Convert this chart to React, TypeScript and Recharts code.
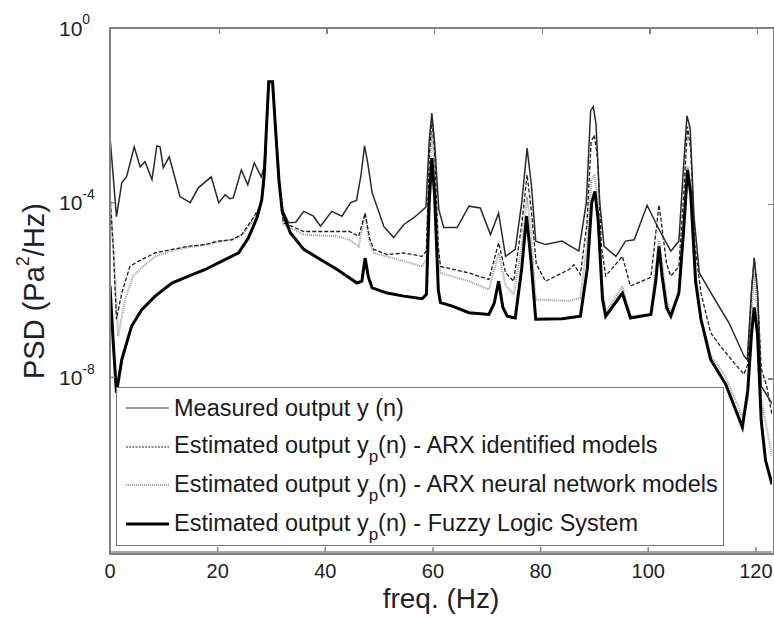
import React from "react";
import { LineChart, Line, XAxis, YAxis, Legend, Label } from "recharts";

const FONT = '"Liberation Sans", Arial, Helvetica, sans-serif';

// frequency (Hz) and log10(PSD)
const measuredFreq = [0, 1.2, 2.2, 3.1, 4.5, 5.6, 6.5, 7.8, 8.7, 9.3, 9.9, 11.0, 11.8, 13.0, 14.9, 16.4, 18.8, 20.2, 21.4, 22.3, 22.9, 24.4, 25.6, 26.8, 28.1, 28.6, 29.1, 29.5, 30.2, 30.7, 31.4, 32.0, 33.2, 34.5, 36.0, 37.8, 39.1, 41.2, 43.1, 44.7, 45.8, 46.6, 47.3, 47.9, 48.7, 50.9, 52.7, 54.6, 56.4, 58.0, 58.7, 59.3, 59.8, 60.3, 61.1, 62.0, 64.5, 66.7, 68.8, 70.7, 72.2, 73.5, 75.3, 76.5, 77.5, 78.3, 79.1, 80.9, 84.0, 87.1, 88.5, 89.3, 89.8, 90.3, 91.0, 91.8, 94.0, 95.8, 97.4, 99.8, 101.7, 104.2, 105.7, 106.5, 107.2, 107.8, 108.5, 109.5, 112.2, 115.0, 117.8, 118.4, 119.2, 119.7, 120.3, 121.0, 123.0];
const measuredLog = [-2.49, -4.32, -3.54, -3.4, -2.72, -3.18, -3.06, -3.47, -2.7, -2.72, -3.2, -2.95, -3.31, -3.86, -4.0, -3.66, -3.41, -4.0, -3.82, -3.91, -3.89, -3.25, -3.59, -3.09, -3.41, -3.2, -2.2, -1.23, -1.23, -2.2, -3.5, -4.16, -4.46, -4.45, -4.2, -4.31, -4.54, -4.2, -4.31, -4.0, -3.95, -3.4, -2.7, -3.1, -3.77, -4.55, -4.8, -4.5, -4.35, -4.18, -4.1, -2.6, -1.95, -2.6, -4.16, -4.57, -4.57, -4.08, -4.12, -4.73, -4.24, -5.23, -5.07, -4.0, -2.75, -3.6, -4.88, -4.96, -4.88, -5.11, -4.0, -1.9, -1.8, -2.2, -4.0, -5.0, -5.23, -4.88, -4.85, -4.06, -4.54, -5.11, -4.88, -3.3, -2.01, -2.3, -4.3, -5.61, -6.18, -6.75, -7.51, -7.6, -6.0, -5.27, -6.0, -8.2, -8.6];

const arxFreq = [0, 0.6, 1.2, 2.2, 3.7, 5.3, 8.4, 11.5, 14.6, 17.7, 20.1, 22.6, 24.5, 26.4, 27.9, 28.6, 29.1, 29.5, 30.2, 30.7, 31.4, 32.2, 36.0, 42.2, 44.5, 46.2, 47.4, 48.2, 49.0, 51.5, 54.6, 58.0, 58.8, 59.3, 59.8, 60.3, 61.0, 61.4, 66.7, 70.4, 72.2, 73.5, 75.0, 76.5, 77.5, 78.3, 79.2, 80.9, 85.3, 86.2, 87.4, 88.6, 89.4, 90.0, 90.6, 91.3, 92.1, 95.2, 96.7, 100.5, 101.4, 102.0, 102.6, 103.4, 104.2, 105.7, 106.6, 107.3, 107.9, 108.7, 109.8, 111.6, 113.5, 115.9, 117.8, 118.5, 119.2, 119.7, 120.3, 121.0, 122.0, 123.0];
const arxLog = [-3.86, -5.0, -6.67, -6.06, -5.46, -5.34, -5.15, -5.07, -5.0, -4.96, -4.88, -4.85, -4.73, -4.39, -4.08, -3.6, -2.2, -1.23, -1.23, -2.2, -3.5, -4.46, -4.66, -4.66, -4.66, -4.77, -4.24, -4.8, -5.07, -5.19, -5.15, -5.23, -5.1, -3.0, -2.1, -2.8, -5.0, -5.46, -5.61, -5.76, -4.92, -5.6, -5.8, -4.5, -3.36, -4.2, -5.4, -5.8, -5.53, -5.42, -5.65, -4.5, -2.6, -2.45, -3.0, -5.0, -5.68, -5.23, -5.91, -5.71, -4.7, -4.05, -4.6, -5.4, -5.68, -5.46, -3.8, -2.26, -2.8, -5.0, -6.07, -6.98, -7.3, -7.66, -7.93, -7.7, -6.0, -5.26, -6.0, -7.8, -8.2, -8.85];

const nnFreq = [0, 0.7, 1.5, 2.8, 4.3, 5.9, 8.4, 11.5, 14.6, 17.7, 20.1, 22.6, 24.5, 26.4, 27.9, 28.6, 29.1, 29.5, 30.2, 30.7, 31.4, 32.2, 36.0, 42.2, 44.5, 46.2, 47.4, 48.2, 49.0, 54.6, 58.0, 58.8, 59.3, 59.8, 60.3, 61.0, 61.4, 66.7, 70.4, 72.2, 73.5, 75.0, 76.5, 77.5, 78.3, 79.1, 85.3, 87.4, 88.6, 89.4, 90.0, 90.6, 91.3, 92.1, 95.2, 96.7, 100.5, 101.4, 102.0, 102.6, 103.4, 104.2, 105.7, 106.6, 107.3, 107.9, 108.7, 109.8, 111.6, 114.4, 117.5, 118.5, 119.2, 119.7, 120.3, 121.0, 123.0];
const nnLog = [-3.86, -5.2, -7.06, -6.22, -5.68, -5.49, -5.23, -5.1, -5.02, -4.96, -4.9, -4.85, -4.75, -4.42, -4.1, -3.6, -2.2, -1.23, -1.23, -2.2, -3.5, -4.5, -4.73, -4.77, -4.85, -5.0, -4.24, -4.9, -5.15, -5.34, -5.46, -5.3, -3.3, -2.4, -3.1, -5.2, -5.61, -5.8, -5.99, -5.15, -5.9, -6.1, -5.0, -3.86, -4.8, -6.22, -6.25, -6.18, -5.0, -3.5, -3.35, -3.9, -5.8, -6.52, -5.91, -6.6, -6.56, -5.5, -4.85, -5.4, -6.2, -6.52, -6.07, -4.5, -3.17, -3.6, -5.5, -6.67, -7.5, -8.0, -8.9, -8.5, -6.5, -5.6, -6.5, -8.5, -9.8];

const fuzzyFreq = [0, 0.6, 1.2, 2.2, 4.0, 5.9, 8.4, 11.5, 14.6, 17.7, 20.8, 23.9, 25.7, 27.3, 28.2, 28.7, 29.1, 29.5, 30.2, 30.7, 31.4, 32.0, 33.5, 36.0, 39.1, 42.2, 45.9, 46.8, 47.4, 48.0, 48.7, 51.5, 54.6, 58.0, 58.8, 59.3, 59.8, 60.3, 61.0, 61.4, 63.6, 66.7, 70.4, 71.4, 72.2, 73.0, 73.8, 75.3, 76.5, 77.4, 78.2, 79.1, 84.0, 87.4, 88.7, 89.5, 90.1, 90.7, 91.5, 92.1, 95.2, 96.7, 100.5, 101.4, 102.0, 102.6, 103.4, 104.2, 105.7, 106.6, 107.3, 107.9, 108.8, 109.8, 111.6, 114.4, 117.5, 118.5, 119.2, 119.7, 120.3, 121.0, 121.8, 123.0];
const fuzzyLog = [-5.91, -7.2, -8.35, -7.59, -6.83, -6.45, -6.14, -5.84, -5.68, -5.53, -5.34, -5.15, -4.81, -4.35, -3.93, -3.3, -2.2, -1.23, -1.23, -2.2, -3.5, -4.2, -4.69, -5.07, -5.3, -5.53, -5.84, -5.8, -5.27, -5.7, -5.95, -6.07, -6.14, -6.2, -6.1, -4.0, -2.98, -3.8, -6.0, -6.29, -6.37, -6.52, -6.56, -6.3, -5.8, -6.4, -6.6, -6.64, -5.5, -4.31, -5.3, -6.67, -6.66, -6.6, -5.5, -4.0, -3.74, -4.4, -6.2, -6.6, -6.07, -6.64, -6.56, -5.8, -5.0, -5.7, -6.4, -6.6, -6.07, -4.6, -3.25, -3.8, -5.8, -6.67, -7.59, -8.16, -9.14, -8.3, -7.0, -6.4, -7.0, -9.0, -9.9, -10.45];

const freqTicks = [0, 20, 40, 60, 80, 100, 120];
const psdTicks = [1, 1e-4, 1e-8];
const freqMax = 123;
const logMin = -12;

const toData = (freq: number[], lg: number[]) => freq.map((f, i) => ({ f, v: Math.pow(10, lg[i]) }));

const measuredData = toData(measuredFreq, measuredLog);
const arxData = toData(arxFreq, arxLog);
const nnData = toData(nnFreq, nnLog);
const fuzzyData = toData(fuzzyFreq, fuzzyLog);

const legendItems = [
  { pre: "Measured output y (n)", sub: "", post: "", stroke: "#333", width: 1.2, dash: undefined as string | undefined },
  { pre: "Estimated output y", sub: "p", post: "(n) - ARX identified models", stroke: "#222", width: 1.1, dash: "2 1.2" },
  { pre: "Estimated output y", sub: "p", post: "(n) - ARX neural network models", stroke: "#a0a0a0", width: 2.2, dash: "1 1" },
  { pre: "Estimated output y", sub: "p", post: "(n) - Fuzzy Logic System", stroke: "#000", width: 3, dash: undefined },
];

// plot box (matches margins + axis sizes below)
const PLOT = { left: 110, top: 28, width: 662, height: 524 };

function PowTick(props: any) {
  const { x, y, payload } = props;
  const exp = Math.round(Math.log10(payload.value));
  return (
    <text x={x} y={y} textAnchor="start" fontFamily={FONT} fill="#222">
      <tspan fontSize={21} dy="0.36em">10</tspan>
      <tspan fontSize={14} dy="-0.8em">{exp}</tspan>
    </text>
  );
}

function YTitle() {
  const cx = 34;
  const cy = 291;
  return (
    <text x={cx} y={cy} transform={`rotate(-90 ${cx} ${cy})`} textAnchor="middle" dominantBaseline="central" fontFamily={FONT} fontSize={29} fill="#222">
      PSD (Pa
      <tspan fontSize={18} dy={-11}>2</tspan>
      <tspan dy={11}>/Hz)</tspan>
    </text>
  );
}

// box around the plot area, with the inward ticks on the top and right edges
function BoxFrame() {
  const { left, top, width, height } = PLOT;
  return (
    <div style={{ position: "absolute", left: left - 1, top: top - 1, width, height, border: "2px solid #808080", zIndex: 5, pointerEvents: "none" }}>
      {freqTicks.slice(1).map((f) => (
        <div key={f} style={{ position: "absolute", left: (f / freqMax) * width, top: 0, width: 1.5, height: 5, background: "#808080" }} />
      ))}
      {psdTicks.slice(1).map((v) => (
        <div key={v} style={{ position: "absolute", right: 0, top: (Math.log10(v) / logMin) * height, width: 5, height: 1.5, background: "#808080" }} />
      ))}
    </div>
  );
}

function LegendBox() {
  return (
    <div style={{ position: "relative", width: 608, height: 159, boxSizing: "border-box", border: "1.5px solid #7a7a7a", background: "#fff", fontFamily: FONT, fontSize: 23.5, color: "#1a1a1a" }}>
      {legendItems.map((it, i) => (
        <div key={i} style={{ position: "absolute", left: 0, top: 21 + i * 38.7 - 16, height: 30, display: "flex", alignItems: "center", whiteSpace: "nowrap" }}>
          <svg width={57} height={30} style={{ flex: "none" }}>
            <line x1={9} x2={52} y1={15} y2={15} stroke={it.stroke} strokeWidth={it.width} strokeDasharray={it.dash} />
          </svg>
          <span style={{ lineHeight: "30px" }}>
            {it.pre}
            {it.sub && <span style={{ fontSize: 17, position: "relative", top: 9 }}>{it.sub}</span>}
            {it.post}
          </span>
        </div>
      ))}
    </div>
  );
}

export default function App() {
  return (
    <div style={{ position: "absolute", left: 0, top: 0, width: 774, height: 617, background: "#fff" }}>
      <LineChart width={774} height={617} margin={{ top: 28, right: 2, bottom: 0, left: 0 }} style={{ fontFamily: FONT }}>
        <XAxis
          dataKey="f"
          type="number"
          domain={[0, freqMax]}
          allowDataOverflow
          ticks={freqTicks}
          height={65}
          tickSize={-5}
          tickMargin={17}
          stroke="#888"
          strokeWidth={1.5}
          tick={{ fontSize: 20, fill: "#222", fontFamily: FONT }}
        >
          <Label value="freq. (Hz)" position="insideBottom" offset={9} style={{ fontSize: 28, fill: "#222", fontFamily: FONT }} />
        </XAxis>
        <YAxis
          scale="log"
          domain={[Math.pow(10, logMin), 1]}
          allowDataOverflow
          ticks={psdTicks}
          width={110}
          tickSize={-5}
          tickMargin={56}
          stroke="#888"
          strokeWidth={1.5}
          tick={<PowTick />}
          label={<YTitle />}
        />
        <Legend layout="vertical" align="center" verticalAlign="middle" wrapperStyle={{ left: 116, top: 387, width: 608, height: 159 }} content={() => <LegendBox />} />
        <Line data={nnData} dataKey="v" name="nn" type="linear" stroke="#a0a0a0" strokeWidth={2.2} strokeDasharray="1 1" dot={false} isAnimationActive={false} />
        <Line data={arxData} dataKey="v" name="arx" type="linear" stroke="#1e1e1e" strokeWidth={1.3} strokeDasharray="4 2" dot={false} isAnimationActive={false} />
        <Line data={measuredData} dataKey="v" name="measured" type="linear" stroke="#2a2a2a" strokeWidth={1.5} dot={false} isAnimationActive={false} />
        <Line data={fuzzyData} dataKey="v" name="fuzzy" type="linear" stroke="#000" strokeWidth={3} dot={false} isAnimationActive={false} />
      </LineChart>
      <BoxFrame />
    </div>
  );
}
